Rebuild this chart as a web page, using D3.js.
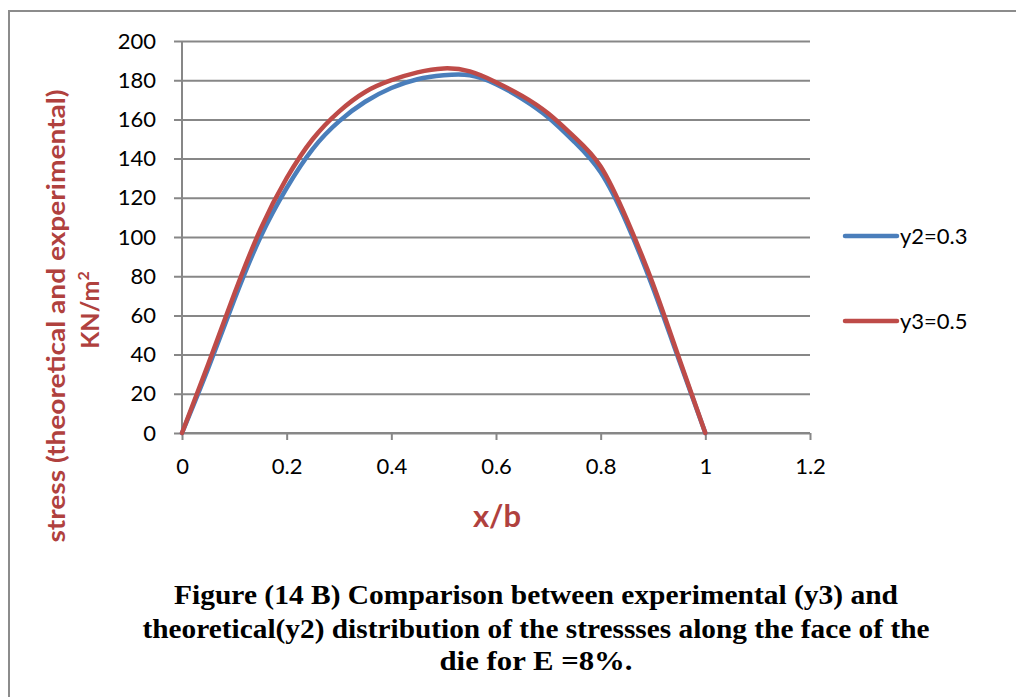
<!DOCTYPE html>
<html>
<head>
<meta charset="utf-8">
<script src="https://cdn.jsdelivr.net/npm/d3@7"></script>
<style>
  html, body { margin: 0; padding: 0; background: #fff; }
  svg { display: block; }
</style>
</head>
<body>
<svg id="chart" width="1018" height="697"></svg>
<script>
// ---- Data ----
const xValues  = [0, 0.05, 0.1, 0.15, 0.2, 0.25, 0.3, 0.35, 0.4, 0.45, 0.5, 0.55, 0.6, 0.65, 0.7, 0.75, 0.8, 0.85, 0.9, 0.95, 1];
const y2Values = [0, 33, 68, 100, 125, 145, 159, 169, 176, 180.5, 182.5, 182.5, 178, 170.5, 161, 148.5, 133, 107, 74, 37, 0];
const y3Values = [0, 35, 71, 104, 130, 150, 164, 174, 180, 184, 186, 184.5, 179, 172, 163, 151, 136, 109, 76, 38, 0];
const seriesNames = ["y2=0.3", "y3=0.5"];
const xTicks = [0, 0.2, 0.4, 0.6, 0.8, 1, 1.2];
const yTicks = [0, 20, 40, 60, 80, 100, 120, 140, 160, 180, 200];
const captionLines = [
  "Figure (14 B) Comparison between experimental (y3) and",
  "theoretical(y2) distribution of the stressses along the face of the",
  "die for E =8%."
];

// ---- Layout ----
const svg = d3.select("#chart");
const pL = 182, pR = 810, pT = 41, pB = 433;
const gridColor = "#878787";
const colors = ["#4A7EBB", "#BE4B48"];
const titleColor = "#B0413E";
const tickFont = "Lato, 'Open Sans', sans-serif";

const x = d3.scaleLinear().domain([0, 1.2]).range([pL, pR]);
const y = d3.scaleLinear().domain([0, 200]).range([pB, pT]);

// outer frame (left and top edges visible)
svg.append("path")
  .attr("d", `M9,697 L9,11 L1016,11`)
  .attr("fill", "none")
  .attr("stroke", "#8c8c8c")
  .attr("stroke-width", 2);

// horizontal gridlines + y ticks
const yAxis = d3.axisLeft(y).tickValues(yTicks).tickSize(-(pR - pL)).tickPadding(14).tickFormat(d3.format("d"));
const gy = svg.append("g").attr("transform", `translate(${pL},0)`).call(yAxis);
gy.select(".domain").remove();
gy.selectAll(".tick line")
  .attr("x1", -8)
  .attr("stroke", gridColor).attr("stroke-width", 2);
gy.selectAll(".tick text")
  .attr("x", -26)
  .attr("font-family", tickFont).attr("font-size", 22).attr("fill", "#000");

// y axis line
svg.append("line")
  .attr("x1", pL).attr("x2", pL).attr("y1", pT).attr("y2", pB)
  .attr("stroke", gridColor).attr("stroke-width", 2);

// x axis
const xAxis = d3.axisBottom(x).tickValues(xTicks).tickSize(7).tickPadding(18)
  .tickFormat(d => d === 0 || d === 1 ? String(d) : d3.format(".1f")(d));
const gx = svg.append("g").attr("transform", `translate(0,${pB})`).call(xAxis);
gx.select(".domain").attr("stroke", gridColor).attr("stroke-width", 2)
  .attr("d", `M${pL},0H${pR}`);
gx.selectAll(".tick line").attr("stroke", gridColor).attr("stroke-width", 2);
gx.selectAll(".tick text")
  .attr("font-family", tickFont).attr("font-size", 22).attr("fill", "#000");

// lines
const line = d3.line()
  .x((d, i) => x(xValues[i]))
  .y(d => y(d))
  .curve(d3.curveNatural);

[y2Values, y3Values].forEach((vals, k) => {
  svg.append("path")
    .attr("d", line(vals))
    .attr("fill", "none")
    .attr("stroke", colors[k])
    .attr("stroke-width", 4.5)
    .attr("stroke-linejoin", "round")
    .attr("stroke-linecap", "round");
});

// legend
const legendY = [236, 321];
seriesNames.forEach((name, k) => {
  svg.append("line")
    .attr("x1", 845).attr("x2", 897)
    .attr("y1", legendY[k]).attr("y2", legendY[k])
    .attr("stroke", colors[k]).attr("stroke-width", 4.5)
    .attr("stroke-linecap", "round");
  svg.append("text")
    .attr("x", 900).attr("y", legendY[k]).attr("dy", "0.35em")
    .attr("font-family", tickFont).attr("font-size", 22).attr("fill", "#000")
    .text(name);
});

// y axis title
const yt = svg.append("text")
  .attr("transform", "translate(65,316) rotate(-90)")
  .attr("text-anchor", "middle")
  .attr("font-family", tickFont).attr("font-weight", "bold")
  .attr("font-size", 25).attr("fill", titleColor);
yt.append("tspan").attr("x", 0).attr("dy", 0)
  .attr("textLength", 453).attr("lengthAdjust", "spacingAndGlyphs")
  .text("stress (theoretical and experimental)");
yt.append("tspan").attr("x", 6).attr("dy", 34).text("KN/m");
yt.append("tspan").attr("dy", -10).attr("font-size", 16).text("2");

// x axis title
svg.append("text")
  .attr("x", 497).attr("y", 527)
  .attr("text-anchor", "middle")
  .attr("font-family", tickFont).attr("font-weight", "bold")
  .attr("font-size", 31).attr("fill", titleColor)
  .text("x/b");

// caption
const capY = [604, 638, 670];
const capW = [724, 787, 193];
captionLines.forEach((t, i) => {
  svg.append("text")
    .attr("x", 536).attr("y", capY[i])
    .attr("text-anchor", "middle")
    .attr("font-family", "'Liberation Serif', 'Times New Roman', serif")
    .attr("font-weight", "bold").attr("font-size", 27).attr("fill", "#000")
    .attr("textLength", capW[i]).attr("lengthAdjust", "spacingAndGlyphs")
    .text(t);
});
</script>
</body>
</html>
